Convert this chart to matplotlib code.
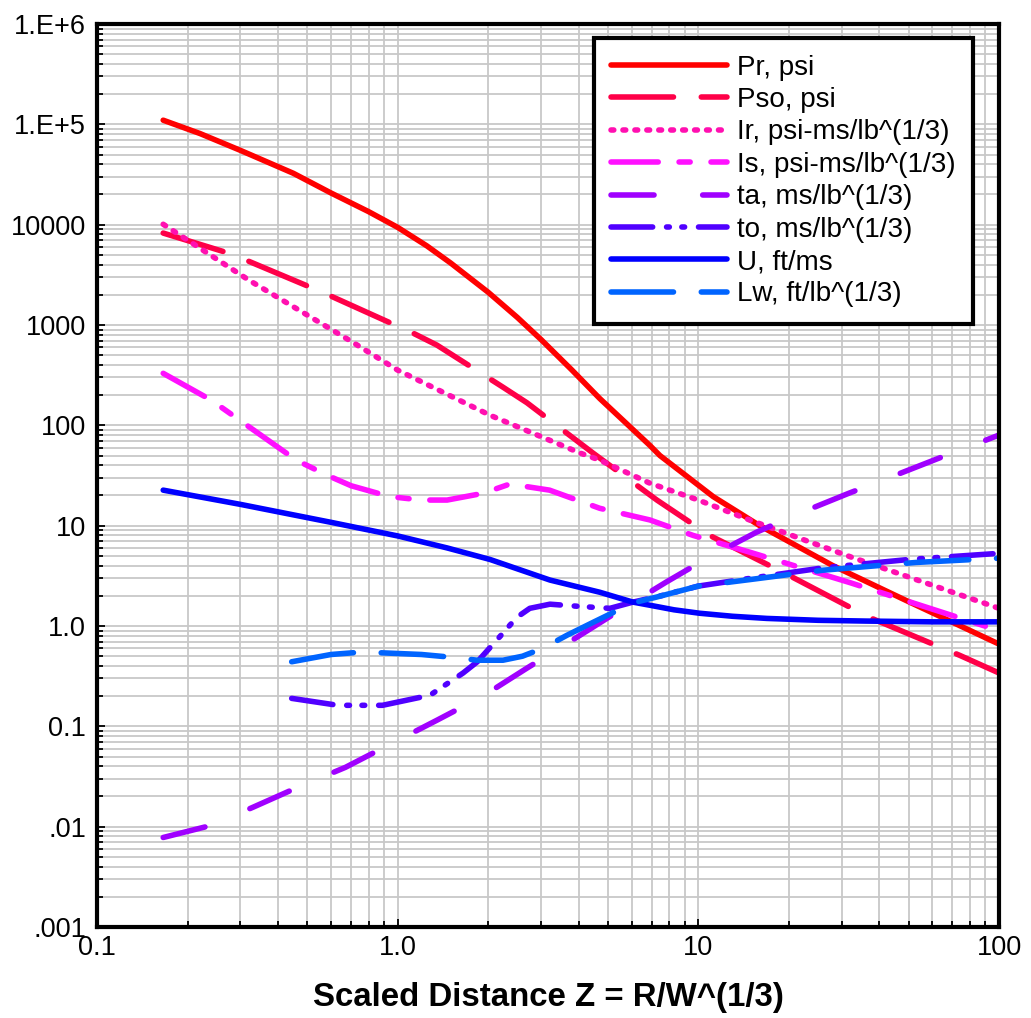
import numpy as np
import matplotlib
matplotlib.use("Agg")
from matplotlib import pyplot as plt
from matplotlib.ticker import LogLocator, NullFormatter

plt.rcParams['font.family'] = ['Liberation Sans', 'DejaVu Sans']
plt.rcParams['lines.scale_dashes'] = False

# values (Z = scaled distance)
z_pr = [0.166, 0.22, 0.3, 0.45, 0.6, 0.8, 1.0, 1.25, 1.5, 2.0, 2.5, 3.0, 3.8, 4.7, 6.9, 7.45, 11.2, 16, 28, 50, 100]
pr = [1.1e5, 8.1e4, 5.5e4, 3.25e4, 2.07e4, 1.35e4, 9.4e3, 6.15e3, 4.15e3, 2.12e3, 1.19e3, 715, 355, 185, 63, 50, 19.5, 10, 4.0, 1.75, 0.66]

z_pso = [0.166, 0.28, 0.56, 1.125, 1.35, 2.24, 2.69, 4.46, 7.28, 10.9, 20, 37, 74, 100]
pso = [8250, 5100, 2130, 830, 631, 240, 168, 53, 18, 8.0, 3.2, 1.22, 0.51, 0.34]

z_ir = [0.166, 0.32, 0.69, 0.873, 1.0, 2.03, 4.04, 4.7, 6.9, 10, 14.8, 32, 100]
ir = [10100, 2800, 706, 457, 355, 126, 53, 45, 26.5, 18, 11.4, 4.9, 1.5]

z_is = [0.166, 0.24, 0.46, 0.58, 0.7, 0.94, 1.2, 1.46, 1.92, 2.36, 3.2, 4.7, 6.9, 9.6, 14.8, 32, 100]
is_ = [330, 178, 45, 32, 25, 19.5, 18, 18, 21, 26, 22.6, 14.9, 11.4, 8.0, 5.45, 2.7, 0.9]

z_ta = [0.166, 0.24, 0.33, 0.47, 0.67, 0.96, 1.35, 1.92, 2.69, 3.8, 5.2, 7.8, 10.9, 15.6, 21.7, 31.6, 43, 63, 100]
ta = [0.0078, 0.0103, 0.0156, 0.025, 0.039, 0.068, 0.115, 0.20, 0.38, 0.72, 1.3, 2.73, 4.9, 8.6, 13.3, 21, 30, 47, 80]

z_to = [0.444, 0.633, 0.89, 1.28, 1.65, 1.84, 2.2, 2.49, 2.75, 3.21, 4.0, 5.08, 6.06, 7.5, 10, 15, 26, 50, 100]
to = [0.19, 0.162, 0.162, 0.204, 0.34, 0.44, 0.8, 1.22, 1.5, 1.65, 1.57, 1.5, 1.73, 2.0, 2.5, 3.0, 3.8, 4.6, 5.3]

z_u = [0.166, 0.3, 0.6, 1.0, 1.46, 2.03, 3.21, 4.7, 6.06, 6.9, 8.3, 10.1, 13, 16.9, 25, 36, 60, 100]
u = [22.6, 16.3, 10.8, 7.9, 6.0, 4.6, 2.87, 2.17, 1.73, 1.61, 1.45, 1.34, 1.25, 1.19, 1.14, 1.12, 1.1, 1.1]

z_lw = [0.444, 0.6, 0.75, 0.89, 1.2, 1.49, 1.84, 2.24, 2.6, 3.04, 3.66, 4.5, 6.06, 7.3, 10, 14.8, 26, 53, 100]
lw_ = [0.44, 0.52, 0.548, 0.54, 0.52, 0.49, 0.456, 0.456, 0.5, 0.60, 0.81, 1.1, 1.7, 1.95, 2.5, 2.9, 3.6, 4.3, 4.74]

labels = ['Pr, psi', 'Pso, psi', 'Ir, psi-ms/lb^(1/3)', 'Is, psi-ms/lb^(1/3)',
          'ta, ms/lb^(1/3)', 'to, ms/lb^(1/3)', 'U, ft/ms', 'Lw, ft/lb^(1/3)']
ytick_vals = [1e-3, 1e-2, 1e-1, 1, 10, 100, 1000, 1e4, 1e5, 1e6]
ytick_txt = ['.001', '.01', '0.1', '1.0', '10', '100', '1000', '10000', '1.E+5', '1.E+6']
xtick_vals = [0.1, 1, 10, 100]
xtick_txt = ['0.1', '1.0', '10', '100']

fig = plt.figure(figsize=(10.31, 10.18), dpi=100)
ax = fig.add_axes([0.0941, 0.0894, 0.8749, 0.887])
ax.set_xscale('log')
ax.set_yscale('log')

W = 4.0
kw = dict(lw=W, solid_capstyle='round', dash_capstyle='round')
ax.plot(z_pr, pr, color='#FF0000', ls='-', label=labels[0], **kw)
ax.plot(z_pso, pso, color='#FF0048', ls=(0, (45, 20)), label=labels[1], **kw)
ax.plot(z_ir, ir, color='#FF10B0', ls=(0, (2.0, 6.6)), label=labels[2], **kw)
ax.plot(z_is, is_, color='#FF10FF', ls=(0, (34, 15, 8, 15)), label=labels[3], **kw)
ax.plot(z_ta, ta, color='#A000FF', ls=(0, (31, 35)), label=labels[4], **kw)
ax.plot(z_to, to, color='#5000FF', ls=(0, (30, 10, 2, 9, 2, 10)), label=labels[5], **kw)
ax.plot(z_u, u, color='#0000FF', ls='-', label=labels[6], **kw)
ax.plot(z_lw, lw_, color='#0064FF', ls=(0, (45, 20)), label=labels[7], **kw)

ax.set_xlim(0.1, 100)
ax.set_ylim(1e-3, 1e6)
ax.set_xticks(xtick_vals)
ax.set_xticklabels(xtick_txt)
ax.set_yticks(ytick_vals)
ax.set_yticklabels(ytick_txt)
ax.xaxis.set_minor_locator(LogLocator(base=10, subs=np.arange(2, 10), numticks=100))
ax.yaxis.set_minor_locator(LogLocator(base=10, subs=np.arange(2, 10), numticks=100))
ax.xaxis.set_minor_formatter(NullFormatter())
ax.yaxis.set_minor_formatter(NullFormatter())

ax.set_axisbelow(True)
ax.grid(True, which='both', color='#c8c8c8', lw=1.3)
ax.tick_params(which='both', direction='in', color='black', width=1.3, labelsize=19.5)
ax.tick_params(which='major', length=6)
ax.tick_params(which='minor', length=4)
ax.tick_params(axis='y', pad=8)
ax.tick_params(axis='x', pad=6)
for s in ax.spines.values():
    s.set_linewidth(3)

ax.set_xlabel('Scaled Distance Z = R/W^(1/3)', fontsize=23.8, fontweight='bold', labelpad=15)

leg = ax.legend(loc='upper left', bbox_to_anchor=(0.551, 0.9845), fontsize=20,
                handlelength=4.2, handletextpad=0.36, labelspacing=0.23,
                borderpad=0.6, borderaxespad=0, fancybox=False, framealpha=1)
leg.get_frame().set_edgecolor('black')
leg.get_frame().set_linewidth(3)

fig.savefig('out.png', dpi=100)
